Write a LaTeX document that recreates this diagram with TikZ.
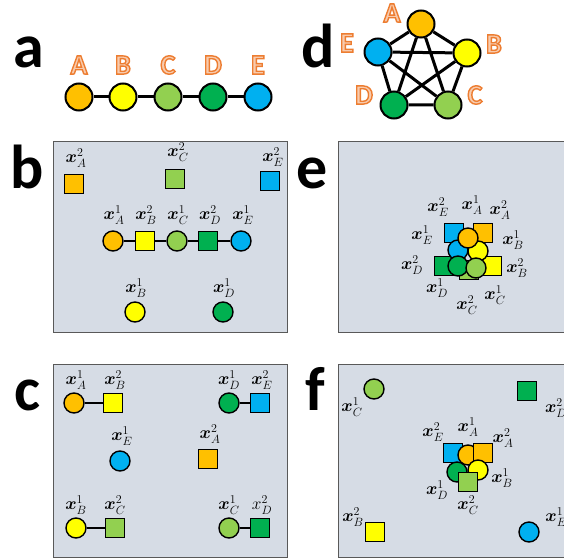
\documentclass[tikz,border=0pt]{standalone}
\usepackage{fontspec}
\setsansfont{Carlito}
\usepackage{amsmath}
\usepackage{bm}
\definecolor{cor}{HTML}{FFC000}
\definecolor{cye}{HTML}{FFFF00}
\definecolor{clg}{HTML}{92D050}
\definecolor{cdg}{HTML}{00B050}
\definecolor{cbl}{HTML}{00B0F0}
\definecolor{lorange}{HTML}{ED7D31}
\definecolor{lpeach}{HTML}{F8CBAD}
\definecolor{boxfill}{HTML}{D6DCE5}
\definecolor{boxgray}{HTML}{595959}
\newcommand\olab[1]{\textcolor{lpeach}{\special{pdf:literal direct 2 Tr 1.4 w 0.929 0.490 0.192 RG}#1\special{pdf:literal direct 0 Tr}}}
\newcommand\xl[2]{$\bm{x}^{#2}_{#1}$}
\newcommand\xr[2]{$x^{#2}_{#1}$}
\tikzset{
  panel/.style={draw=boxgray, fill=boxfill, line width=1pt},
  big/.style={font=\fontsize{62}{62}\selectfont\sffamily\bfseries, inner sep=0, anchor=base},
  olabel/.style={font=\fontsize{28}{28}\selectfont\sffamily\bfseries, inner sep=0},
  bigc/.style={circle, draw, line width=2pt, minimum size=27pt, inner sep=0},
  sc/.style={circle, draw, line width=1.4pt, minimum size=20pt, inner sep=0},
  ss/.style={rectangle, draw, line width=1.4pt, minimum size=19pt, inner sep=0},
  lab/.style={font=\fontsize{18.5}{18.5}\selectfont, inner sep=0},
  thick edge/.style={line width=3pt},
  thin edge/.style={line width=1.4pt},
}
\begin{document}
\begin{tikzpicture}[x=1pt,y=-1pt]
\useasboundingbox (0,0) rectangle (564,559);
% panel letters
\node[big] (La) at (29,68) {a};
\node[big] (Lb) at (27,188) {b};
\node[big] (Lc) at (27,410) {c};
\node[big] (Ld) at (318,68) {d};
\node[big] (Le) at (312,188) {e};
\node[big] (Lf) at (315,410) {f};
% panels
\draw[panel] (53,141) rectangle (287,332);
\draw[panel] (338,141) rectangle (580,332);
\draw[panel] (53,364) rectangle (287,557);
\draw[panel] (338,364) rectangle (580,557);
% ---------- a ----------
\node[bigc, fill=cor] (aA) at (79,97) {};
\node[bigc, fill=cye] (aB) at (123,97) {};
\node[bigc, fill=clg] (aC) at (168,97) {};
\node[bigc, fill=cdg] (aD) at (213,97) {};
\node[bigc, fill=cbl] (aE) at (258,97) {};
\draw[thick edge] (aA) -- (aB) (aB) -- (aC) (aC) -- (aD) (aD) -- (aE);
\node[olabel] (tA) at (79,65) {\olab{A}};
\node[olabel] (tB) at (123,65) {\olab{B}};
\node[olabel] (tC) at (168,65) {\olab{C}};
\node[olabel] (tD) at (213,65) {\olab{D}};
\node[olabel] (tE) at (258,65) {\olab{E}};
% ---------- d ----------
\node[bigc, fill=cor] (dA) at (421,24) {};
\node[bigc, fill=cye] (dB) at (467,53) {};
\node[bigc, fill=clg] (dC) at (448,105) {};
\node[bigc, fill=cdg] (dD) at (394,105) {};
\node[bigc, fill=cbl] (dE) at (378,52) {};
\draw[thick edge] (dA) -- (dB) (dA) -- (dC) (dA) -- (dD) (dA) -- (dE)
  (dB) -- (dC) (dB) -- (dD) (dB) -- (dE) (dC) -- (dD) (dC) -- (dE) (dD) -- (dE);
\node[olabel] (uA) at (392,13) {\olab{A}};
\node[olabel] (uB) at (494,44) {\olab{B}};
\node[olabel] (uC) at (475,95) {\olab{C}};
\node[olabel] (uD) at (364,95) {\olab{D}};
\node[olabel] (uE) at (347,43) {\olab{E}};
% ---------- b ----------
\node[ss, fill=cor] (bA2) at (74,184) {};
\node[ss, fill=clg] (bC2) at (175,179) {};
\node[ss, fill=cbl] (bE2) at (270,181) {};
\node[sc, fill=cor] (bA1) at (113,241) {};
\node[ss, fill=cye] (bB2) at (145,241) {};
\node[sc, fill=clg] (bC1) at (177,241) {};
\node[ss, fill=cdg] (bD2) at (208,241) {};
\node[sc, fill=cbl] (bE1) at (241,241) {};
\node[sc, fill=cye] (bB1) at (135,312) {};
\node[sc, fill=cdg] (bD1) at (223,312) {};
\draw[thin edge] (bA1) -- (bB2) (bB2) -- (bC1) (bC1) -- (bD2) (bD2) -- (bE1);
\node[lab] (lbA2) at (76,158) {\xl{A}{2}};
\node[lab] (lbC2) at (178,152) {\xl{C}{2}};
\node[lab] (lbE2) at (273,157) {\xl{E}{2}};
\node[lab] (lbA1) at (114,215) {\xl{A}{1}};
\node[lab] (lbB2) at (146,215) {\xl{B}{2}};
\node[lab] (lbC1) at (178,215) {\xl{C}{1}};
\node[lab] (lbD2) at (210,215) {\xl{D}{2}};
\node[lab] (lbE1) at (243,215) {\xl{E}{1}};
\node[lab] (lbB1) at (136,288) {\xl{B}{1}};
\node[lab] (lbD1) at (224,288) {\xl{D}{1}};
% ---------- e ----------
\node[ss, fill=cbl] (eE2) at (454,233) {};
\node[ss, fill=cor] (eA2) at (483,233) {};
\node[ss, fill=cdg] (eD2) at (444,266) {};
\node[ss, fill=cye] (eB2) at (492,266) {};
\node[ss, fill=clg] (eC2) at (469,270) {};
\node[sc, fill=cbl] (eE1) at (458,250) {};
\node[sc, fill=cye] (eB1) at (478,251) {};
\node[sc, fill=cor] (eA1) at (468,238) {};
\node[sc, fill=cdg] (eD1) at (458,266) {};
\node[sc, fill=clg] (eC1) at (476,268) {};
\node[lab] (leE2) at (438,207) {\xl{E}{2}};
\node[lab] (leA1) at (472,205) {\xl{A}{1}};
\node[lab] (leA2) at (500,210) {\xl{A}{2}};
\node[lab] (leE1) at (422,235) {\xl{E}{1}};
\node[lab] (leB1) at (513,240) {\xl{B}{1}};
\node[lab] (leD2) at (412,265) {\xl{D}{2}};
\node[lab] (leB2) at (517,268) {\xl{B}{2}};
\node[lab] (leD1) at (437,288) {\xl{D}{1}};
\node[lab] (leC1) at (495,295) {\xl{C}{1}};
\node[lab] (leC2) at (467,305) {\xl{C}{2}};
% ---------- c ----------
\node[sc, fill=cor] (cA1) at (74,403) {};
\node[ss, fill=cye] (cB2) at (113,403) {};
\node[sc, fill=cdg] (cD1) at (229,403) {};
\node[ss, fill=cbl] (cE2) at (260,403) {};
\node[sc, fill=cbl] (cE1) at (120,461) {};
\node[ss, fill=cor] (cA2) at (208,459) {};
\node[sc, fill=cye] (cB1) at (76,528) {};
\node[ss, fill=clg] (cC2) at (115,528) {};
\node[sc, fill=clg] (cC1) at (229,528) {};
\node[ss, fill=cdg] (cD2) at (260,528) {};
\draw[thin edge] (cA1) -- (cB2) (cD1) -- (cE2) (cB1) -- (cC2) (cC1) -- (cD2);
\node[lab] (lcA1) at (76,380) {\xl{A}{1}};
\node[lab] (lcB2) at (115,380) {\xl{B}{2}};
\node[lab] (lcD1) at (229,380) {\xl{D}{1}};
\node[lab] (lcE2) at (262,380) {\xl{E}{2}};
\node[lab] (lcE1) at (122,436) {\xl{E}{1}};
\node[lab] (lcA2) at (210,434) {\xl{A}{2}};
\node[lab] (lcB1) at (76,505) {\xl{B}{1}};
\node[lab] (lcC2) at (115,505) {\xl{C}{2}};
\node[lab] (lcC1) at (229,505) {\xl{C}{1}};
\node[lab] (lcD2) at (262,505) {\xr{D}{2}};
% ---------- f ----------
\node[sc, fill=clg] (fC1) at (374,389) {};
\node[ss, fill=cdg] (fD2) at (527,391) {};
\node[ss, fill=cye] (fB2) at (375,532) {};
\node[sc, fill=cbl] (fE1) at (529,532) {};
\node[ss, fill=cbl] (fE2) at (453,453) {};
\node[sc, fill=cor] (fA1) at (468,455) {};
\node[ss, fill=cor] (fA2) at (483,453) {};
\node[sc, fill=cye] (fB1) at (478,470) {};
\node[sc, fill=cdg] (fD1) at (457,472) {};
\node[ss, fill=clg] (fC2) at (468,482) {};
\node[lab] (lfC1) at (352,407) {\xl{C}{1}};
\node[lab] (lfD2) at (556,408) {\xl{D}{2}};
\node[lab] (lfB2) at (353,517) {\xl{B}{2}};
\node[lab] (lfE1) at (556,517) {\xl{E}{1}};
\node[lab] (lfE2) at (433,432) {\xl{E}{2}};
\node[lab] (lfA1) at (468,427) {\xl{A}{1}};
\node[lab] (lfA2) at (503,438) {\xl{A}{2}};
\node[lab] (lfB1) at (502,478) {\xl{B}{1}};
\node[lab] (lfD1) at (437,490) {\xl{D}{1}};
\node[lab] (lfC2) at (468,505) {\xl{C}{2}};
\end{tikzpicture}
\end{document}
